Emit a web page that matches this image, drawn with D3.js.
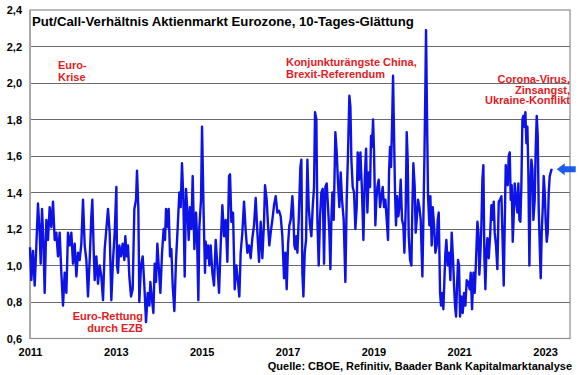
<!DOCTYPE html>
<html><head><meta charset="utf-8">
<script src="https://cdn.jsdelivr.net/npm/d3@7"></script>
<style>
html,body{margin:0;padding:0;background:#fff;}
svg{display:block;font-family:"Liberation Sans",Arial,sans-serif;}
</style></head>
<body><svg id="chart" width="580" height="375"></svg>
<script>
const title = "Put/Call-Verhältnis Aktienmarkt Eurozone, 10-Tages-Glättung";
const source = "Quelle: CBOE, Refinitiv, Baader Bank Kapitalmarktanalyse";
const xTickYears = [2011, 2013, 2015, 2017, 2019, 2021, 2023];
const yTickValues = [0.6, 0.8, 1.0, 1.2, 1.4, 1.6, 1.8, 2.0, 2.2, 2.4];
const currentValue = 1.53;

// decimal years of each observation (10-day smoothed series)
const years = [
2011.000,2011.031,2011.070,2011.109,2011.148,2011.186,2011.225,2011.249,2011.280,2011.311,2011.342,2011.381,2011.419,2011.458,2011.497,2011.536,2011.575,2011.614,2011.652,2011.691,2011.730,2011.769,2011.808,2011.847,2011.885,2011.924,2011.963,2012.002,2012.041,2012.080,2012.118,2012.157,2012.196,2012.235,2012.274,2012.313,2012.351,2012.390,2012.429,2012.452,2012.483,2012.507,2012.546,2012.584,2012.623,2012.662,2012.701,2012.740,2012.779,2012.817,2012.856,2012.895,2012.934,2012.973,2013.012,
2013.027,2013.050,2013.081,2013.120,2013.159,2013.198,2013.221,2013.252,2013.283,2013.314,2013.353,2013.392,2013.431,2013.470,2013.493,2013.524,2013.547,2013.586,2013.625,2013.664,2013.703,2013.742,2013.780,2013.804,2013.835,2013.874,2013.905,2013.936,2013.967,2013.998,2014.037,2014.076,2014.114,2014.145,2014.169,2014.208,2014.231,2014.262,2014.293,2014.324,2014.363,2014.402,2014.441,2014.479,2014.510,2014.541,2014.573,2014.604,2014.635,2014.674,2014.697,2014.728,2014.759,2014.790,2014.829,2014.868,2014.891,2014.922,2014.945,2014.984,2015.008,2015.046,2015.077,
2015.093,2015.116,2015.147,2015.178,2015.209,2015.248,2015.287,2015.326,2015.365,2015.404,2015.442,2015.481,2015.520,2015.559,2015.598,2015.637,2015.660,2015.691,2015.730,2015.769,2015.807,2015.846,2015.877,2015.908,2015.947,2015.986,2016.025,2016.064,2016.103,2016.141,2016.180,2016.219,2016.258,2016.297,2016.336,2016.374,2016.413,2016.452,2016.475,2016.514,2016.545,2016.576,2016.607,2016.646,2016.685,2016.724,2016.763,2016.802,2016.840,2016.879,2016.918,2016.949,2016.980,2017.011,2017.042,2017.073,2017.112,
2017.128,2017.159,2017.182,2017.205,2017.229,2017.260,2017.299,2017.322,2017.345,2017.369,2017.400,2017.431,2017.462,2017.493,2017.524,2017.555,2017.586,2017.617,2017.640,2017.671,2017.695,2017.726,2017.757,2017.788,2017.819,2017.850,2017.881,2017.912,2017.943,2017.974,2017.998,2018.021,2018.044,2018.075,2018.114,2018.145,2018.176,2018.207,2018.238,2018.269,2018.308,2018.347,2018.378,2018.409,2018.440,2018.464,2018.487,2018.518,2018.549,2018.580,2018.611,2018.634,2018.666,2018.697,2018.735,2018.767,2018.798,2018.829,2018.860,2018.891,2018.922,2018.945,2018.968,2018.992,2019.015,2019.046,2019.069,2019.093,2019.124,2019.155,
2019.217,2019.248,2019.279,2019.310,2019.341,2019.364,2019.388,2019.411,2019.434,2019.458,2019.481,2019.504,2019.527,2019.551,2019.582,2019.605,2019.636,2019.667,2019.698,2019.722,2019.753,2019.776,2019.799,2019.823,2019.854,2019.885,2019.908,2019.931,2019.962,2019.986,2020.009,2020.040,2020.071,2020.102,2020.141,2020.164,2020.188,2020.211,2020.226,2020.250,2020.273,2020.304,2020.327,2020.358,2020.382,2020.413,2020.444,2020.475,2020.498,2020.522,2020.553,2020.576,2020.607,2020.630,2020.654,2020.677,2020.700,2020.731,2020.762,2020.793,2020.824,2020.856,2020.879,2020.902,2020.926,2020.949,2020.972,2020.995,2021.019,2021.050,2021.081,2021.112,2021.143,2021.174,2021.205,
2021.244,2021.267,2021.298,2021.330,2021.361,2021.392,2021.423,2021.446,2021.469,2021.493,2021.516,2021.539,2021.562,2021.586,2021.609,2021.632,2021.656,2021.687,2021.718,2021.749,2021.780,2021.803,2021.826,2021.857,2021.888,2021.920,2021.951,2021.982,2022.013,2022.036,2022.059,2022.083,2022.106,2022.129,2022.152,2022.176,2022.199,2022.222,2022.246,2022.269,2022.292,2022.323,2022.354,2022.377,2022.401,2022.424,2022.447,2022.471,2022.494,2022.517,2022.541,2022.564,2022.587,2022.610,2022.634,2022.657,2022.680,2022.704,2022.727,2022.758,2022.781,2022.805,2022.828,2022.851,2022.875,2022.898,2022.921,2022.944,2022.968,2022.991,2023.014,2023.038,2023.061,2023.084,2023.108,2023.131,2023.154
];

// put/call ratio values
const ratio = [
1.10,0.92,1.08,0.89,1.11,1.34,1.18,1.01,1.31,1.14,0.85,1.25,1.14,1.32,1.21,1.35,1.14,1.18,1.05,1.18,0.96,0.78,0.96,0.85,1.18,1.11,1.18,1.01,1.12,0.94,1.07,1.03,1.12,1.36,1.11,1.03,0.83,1.03,1.27,1.36,1.09,0.92,1.05,0.90,1.00,0.94,0.81,1.09,1.20,1.31,1.18,0.81,1.03,1.18,1.43,
1.00,0.96,1.11,1.05,1.12,1.03,1.16,1.05,1.11,0.94,0.83,0.87,1.31,1.36,1.52,1.31,0.80,1.00,1.05,0.89,0.69,0.85,0.78,0.91,0.83,0.74,1.01,0.91,1.12,1.00,0.85,1.07,1.20,1.14,1.31,1.21,1.31,1.05,1.09,0.89,0.75,1.03,1.21,1.40,1.32,1.56,1.36,0.94,1.42,1.27,1.14,1.32,1.20,1.49,1.09,1.29,1.16,0.81,1.21,1.36,1.76,1.27,0.96,
1.13,1.04,1.11,1.00,1.11,0.96,0.89,1.14,1.00,0.85,1.11,1.33,1.16,1.25,1.02,1.49,1.50,1.24,1.29,0.87,1.00,0.91,0.83,1.07,1.18,1.35,1.19,1.07,1.11,1.04,1.15,1.22,1.37,1.18,1.02,1.24,1.04,1.24,1.44,1.36,1.22,1.11,1.18,1.25,1.33,1.38,1.29,1.30,1.27,1.16,0.93,1.07,0.87,1.11,1.22,1.25,1.38,
1.32,1.11,1.09,1.16,1.07,1.25,1.54,1.58,0.96,0.83,1.07,1.14,1.58,1.32,1.22,1.16,1.32,1.43,1.84,1.80,1.25,1.00,1.27,1.40,1.42,1.01,1.43,1.45,1.32,1.18,0.98,1.25,1.40,1.25,1.73,1.62,1.45,1.32,1.51,1.36,1.25,0.91,1.36,1.62,1.93,1.87,1.58,1.43,1.40,1.20,1.32,1.62,1.47,1.62,1.40,1.14,1.47,1.64,1.29,1.51,1.43,1.71,1.65,1.80,1.62,1.22,1.36,1.43,1.47,1.32,
1.43,1.32,1.36,1.25,1.14,1.51,1.65,1.54,1.76,2.04,1.71,1.40,1.22,1.38,1.27,1.32,1.47,1.25,1.22,1.07,1.32,1.73,1.58,1.16,1.03,1.00,1.32,1.56,1.43,1.18,1.25,1.36,1.32,1.25,0.94,1.25,1.58,1.98,2.29,1.80,1.38,1.22,1.38,1.11,1.32,1.22,1.07,1.11,1.25,1.29,0.85,0.78,0.85,0.76,0.92,1.07,1.14,1.00,1.07,0.92,1.18,1.03,0.89,0.78,0.72,0.89,1.03,1.00,0.72,0.83,0.74,0.85,0.78,0.92,0.91,
0.87,0.96,0.76,0.96,0.85,1.04,1.24,1.18,0.95,1.07,1.22,1.47,1.55,1.04,0.87,1.07,1.15,1.04,1.16,1.33,1.25,1.35,1.18,1.11,0.98,1.35,1.36,1.38,1.11,0.89,1.22,1.55,1.49,1.44,1.60,1.62,1.36,1.44,1.13,1.27,1.45,1.36,1.29,1.45,1.25,1.24,1.44,1.80,1.82,1.76,1.84,1.67,1.76,1.51,1.00,1.40,1.58,1.53,1.25,1.36,1.64,1.82,1.71,1.31,1.11,0.93,1.18,1.31,1.49,1.40,1.24,1.13,1.18,1.40,1.49,1.51,1.53
];

// annotations: lines of text, anchor year/value, alignment
const notes = [
  {lines: ["Euro-", "Krise"], year: 2011.652, value: 2.074, anchor: "start"},
  {lines: ["Euro-Rettung", "durch EZB"], year: 2013.632, value: 0.701, anchor: "end"},
  {lines: ["Konjunkturängste China,", "Brexit-Referendum"], year: 2016.963, value: 2.093, anchor: "start"},
  {lines: ["Corona-Virus,", "Zinsangst,", "Ukraine-Konflikt"], year: 2023.58, value: 2.0, anchor: "end", lh: 10.5}
];

const svg = d3.select("#chart");
const M = {left: 30, right: 570, top: 10, bottom: 338.5};
const x = d3.scaleLinear().domain([2011, 2023.58]).range([M.left, M.right]);
const y = d3.scaleLinear().domain([0.6, 2.4]).range([M.bottom, M.top]);
const fmt = d3.formatLocale({decimal: ",", thousands: ".", grouping: [3], currency: ["", "€"]}).format(".1f");

// gridlines
svg.append("g").selectAll("line").data(yTickValues.slice(1, -1)).join("line")
  .attr("x1", M.left).attr("x2", M.right)
  .attr("y1", d => y(d)).attr("y2", d => y(d))
  .attr("stroke", "#6a6a6a").attr("stroke-width", 1).attr("shape-rendering", "crispEdges");

// frame
svg.append("rect").attr("x", M.left).attr("y", M.top)
  .attr("width", M.right - M.left).attr("height", M.bottom - M.top)
  .attr("fill", "none").attr("stroke", "#8c8c8c").attr("stroke-width", 1.2);
svg.append("line").attr("x1", M.left).attr("x2", M.left).attr("y1", M.top).attr("y2", M.bottom)
  .attr("stroke", "#a8a8a8").attr("stroke-width", 2);

// y axis labels
const yAxis = d3.axisLeft(y).tickValues(yTickValues).tickFormat(fmt).tickSize(0).tickPadding(8);
const gy = svg.append("g").attr("transform", `translate(${M.left},0)`).call(yAxis);
gy.select(".domain").remove();
gy.selectAll("text").attr("font-size", 11).attr("font-weight", "bold").attr("fill", "#000")
  .attr("font-family", "Liberation Sans, Arial, sans-serif");

// x axis labels
const xAxis = d3.axisBottom(x).tickValues(xTickYears).tickFormat(d3.format("d")).tickSize(0).tickPadding(10);
const gx = svg.append("g").attr("transform", `translate(0,${M.bottom})`).call(xAxis);
gx.select(".domain").remove();
gx.selectAll("text").attr("font-size", 11).attr("font-weight", "bold").attr("fill", "#000")
  .attr("font-family", "Liberation Sans, Arial, sans-serif");

// title
svg.append("text").attr("x", 32).attr("y", 25.5).text(title)
  .attr("font-size", 13.2).attr("font-weight", "bold").attr("fill", "#000");

// series line
const data = d3.zip(years, ratio);
svg.append("path").datum(data)
  .attr("fill", "none").attr("stroke", "#0d12e6").attr("stroke-width", 2.4)
  .attr("stroke-linejoin", "round")
  .attr("d", d3.line().x(d => x(d[0])).y(d => y(d[1])));

// annotations
notes.forEach(n => {
  const t = svg.append("text").attr("x", x(n.year)).attr("y", y(n.value))
    .attr("text-anchor", n.anchor).attr("font-size", 11).attr("font-weight", "bold")
    .attr("fill", "#e31b23");
  n.lines.forEach((l, i) => t.append("tspan").attr("x", x(n.year)).attr("dy", i === 0 ? 0 : (n.lh || 12)).text(l));
});

// arrow marking current level
const ay = y(currentValue) + 0.5;
const ax = x(years[years.length - 1]) + 5;
svg.append("path")
  .attr("d", `M${ax},${ay} L${ax + 8},${ay - 6} L${ax + 8},${ay - 3} L${ax + 19},${ay - 3} L${ax + 19},${ay + 3} L${ax + 8},${ay + 3} L${ax + 8},${ay + 6} Z`)
  .attr("fill", "#1a5cf0");

// source
svg.append("text").attr("x", 572).attr("y", 370).attr("text-anchor", "end")
  .attr("font-size", 11).attr("font-weight", "bold").attr("fill", "#000").text(source);
</script></body></html>
